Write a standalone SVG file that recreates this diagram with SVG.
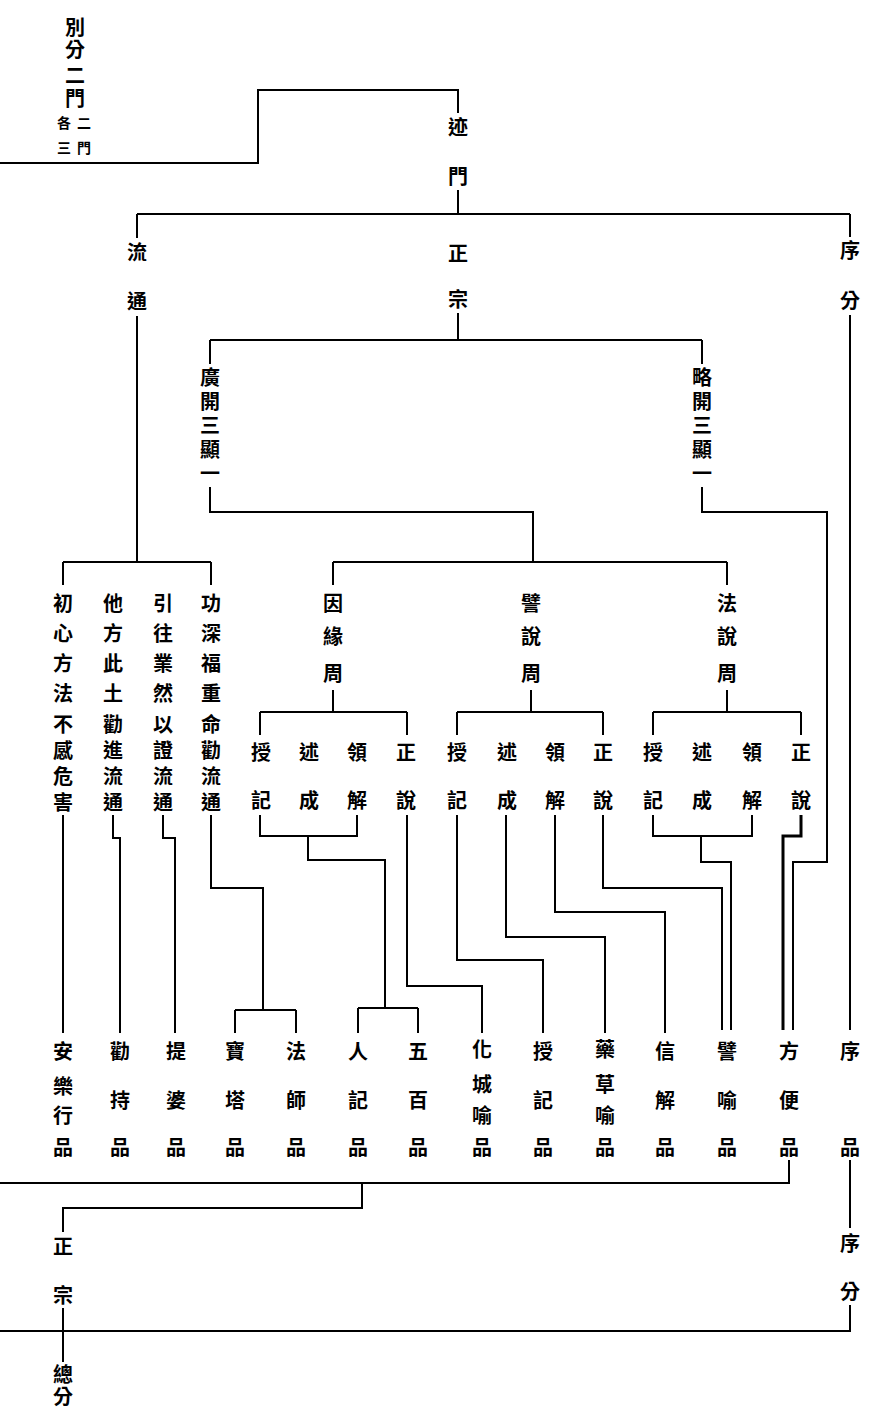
<svg xmlns="http://www.w3.org/2000/svg" width="871" height="1415" viewBox="0 0 871 1415">
<style>
text{font-family:"Noto Sans CJK TC","Noto Sans CJK JP",sans-serif;font-weight:700;font-size:20px;text-anchor:middle;fill:#000}
.s{font-size:14px}
.t{font-size:20px}
.c path{fill:none;stroke:#000;stroke-width:2}
.c .k{stroke-width:3}
</style>
<rect width="871" height="1415" fill="#fff"/>
<g class="c" id="connectors">
<path d="M0,163 H258 V90 H458 V113"/>
<path d="M458,190 V214"/>
<path d="M137,214 H850 M137,214 V238 M850,214 V237"/>
<path d="M458,313 V340"/>
<path d="M210,340 H702 M210,340 V364 M702,340 V364"/>
<path d="M137,316 V562 M63,562 H211 M63,562 V585 M211,562 V585"/>
<path d="M210,487 V512 H533 V562 M333,562 H727 M333,562 V585 M727,562 V585"/>
<path d="M702,487 V512 H827 V862 H793 V1030"/>
<path d="M850,315 V1030"/>
<path d="M333,690 V712 M260,712 H407 M260,712 V735 M407,712 V735"/>
<path d="M531,690 V712 M457,712 H603 M457,712 V735 M603,712 V735"/>
<path d="M727,690 V712 M653,712 H801 M653,712 V735 M801,712 V735"/>
<path d="M260,815 V836 H357 V815 M308,836 V860 H385 V1008 M358,1008 H418 M358,1008 V1033 M418,1008 V1033"/>
<path d="M407,815 V986 H482 V1033"/>
<path d="M457,815 V960 H543 V1033"/>
<path d="M506,815 V937 H605 V1033"/>
<path d="M555,815 V912 H665 V1033"/>
<path d="M603,815 V888 H722 V1030"/>
<path d="M653,815 V836 H752 V815 M701,836 V862 H731 V1030"/>
<path class="k" d="M801,815 V836 H783 V1030"/>
<path d="M63,815 V1033"/>
<path d="M113,815 V838 H120 V1033"/>
<path d="M163,815 V838 H175 V1033"/>
<path d="M211,815 V888 H263 V1010 M235,1010 H296 M235,1010 V1033 M296,1010 V1033"/>
<path d="M789,1160 V1183 H0 M362,1183 V1208 H63 V1232 M63,1308 V1362 M0,1331 H850 V1305 M850,1160 V1228"/>
</g>
<g id="n-betsubun"><text class="t" x="75" y="35">別</text><text class="t" x="75" y="57">分</text><text class="t" x="75" y="83">二</text><text class="t" x="75" y="106">門</text><text class="s" x="64" y="128">各</text><text class="s" x="84" y="128">二</text><text class="s" x="64" y="153">三</text><text class="s" x="84" y="153">門</text></g>
<g id="n-shakumon"><text x="458" y="135">迹</text><text x="458" y="184">門</text></g>
<g id="n-jobun"><text x="850" y="258">序</text><text x="850" y="308">分</text></g>
<g id="n-shoshu"><text x="458" y="261">正</text><text x="458" y="307">宗</text></g>
<g id="n-ruzu"><text x="137" y="260">流</text><text x="137" y="309">通</text></g>
<g id="n-kokai"><text class="t" x="210" y="385">廣</text><text class="t" x="210" y="409">開</text><text class="t" x="210" y="433">三</text><text class="t" x="210" y="457">顯</text><text class="t" x="210" y="481">一</text></g>
<g id="n-ryakukai"><text class="t" x="702" y="385">略</text><text class="t" x="702" y="409">開</text><text class="t" x="702" y="433">三</text><text class="t" x="702" y="457">顯</text><text class="t" x="702" y="481">一</text></g>
<g id="n-innen"><text x="333" y="611">因</text><text x="333" y="644">緣</text><text x="333" y="681">周</text></g>
<g id="n-hiyu"><text x="531" y="611">譬</text><text x="531" y="644">說</text><text x="531" y="681">周</text></g>
<g id="n-hossetsu"><text x="727" y="611">法</text><text x="727" y="644">說</text><text x="727" y="681">周</text></g>
<g id="n-g1"><text x="261" y="760">授</text><text x="261" y="808">記</text><text x="309" y="760">述</text><text x="309" y="808">成</text><text x="357" y="760">領</text><text x="357" y="808">解</text><text x="406" y="760">正</text><text x="406" y="808">說</text></g>
<g id="n-g2"><text x="457" y="760">授</text><text x="457" y="808">記</text><text x="507" y="760">述</text><text x="507" y="808">成</text><text x="555" y="760">領</text><text x="555" y="808">解</text><text x="603" y="760">正</text><text x="603" y="808">說</text></g>
<g id="n-g3"><text x="653" y="760">授</text><text x="653" y="808">記</text><text x="702" y="760">述</text><text x="702" y="808">成</text><text x="752" y="760">領</text><text x="752" y="808">解</text><text x="801" y="760">正</text><text x="801" y="808">說</text></g>
<g id="n-col1"><text x="63" y="611">初</text><text x="63" y="641">心</text><text x="63" y="671">方</text><text x="63" y="701">法</text><text x="63" y="732">不</text><text x="63" y="758">感</text><text x="63" y="784">危</text><text x="63" y="810">害</text></g>
<g id="n-col2"><text x="113" y="611">他</text><text x="113" y="641">方</text><text x="113" y="671">此</text><text x="113" y="701">土</text><text x="113" y="732">勸</text><text x="113" y="758">進</text><text x="113" y="784">流</text><text x="113" y="810">通</text></g>
<g id="n-col3"><text x="163" y="611">引</text><text x="163" y="641">往</text><text x="163" y="671">業</text><text x="163" y="701">然</text><text x="163" y="732">以</text><text x="163" y="758">證</text><text x="163" y="784">流</text><text x="163" y="810">通</text></g>
<g id="n-col4"><text x="211" y="611">功</text><text x="211" y="641">深</text><text x="211" y="671">福</text><text x="211" y="701">重</text><text x="211" y="732">命</text><text x="211" y="758">勸</text><text x="211" y="784">流</text><text x="211" y="810">通</text></g>
<g id="n-anrakugyo"><text x="63" y="1059">安</text><text x="63" y="1094">樂</text><text x="63" y="1123">行</text><text x="63" y="1155">品</text></g>
<g id="n-kanji"><text x="120" y="1059">勸</text><text x="120" y="1108">持</text><text x="120" y="1155">品</text></g>
<g id="n-daiba"><text x="176" y="1059">提</text><text x="176" y="1108">婆</text><text x="176" y="1155">品</text></g>
<g id="n-hoto"><text x="235" y="1059">寶</text><text x="235" y="1108">塔</text><text x="235" y="1155">品</text></g>
<g id="n-hosshi"><text x="296" y="1059">法</text><text x="296" y="1108">師</text><text x="296" y="1155">品</text></g>
<g id="n-ninki"><text x="358" y="1059">人</text><text x="358" y="1108">記</text><text x="358" y="1155">品</text></g>
<g id="n-gohyaku"><text x="418" y="1059">五</text><text x="418" y="1108">百</text><text x="418" y="1155">品</text></g>
<g id="n-kejo"><text x="482" y="1057">化</text><text x="482" y="1092">城</text><text x="482" y="1123">喻</text><text x="482" y="1155">品</text></g>
<g id="n-juki"><text x="543" y="1059">授</text><text x="543" y="1108">記</text><text x="543" y="1155">品</text></g>
<g id="n-yakuso"><text x="605" y="1057">藥</text><text x="605" y="1092">草</text><text x="605" y="1123">喻</text><text x="605" y="1155">品</text></g>
<g id="n-shinge"><text x="665" y="1059">信</text><text x="665" y="1108">解</text><text x="665" y="1155">品</text></g>
<g id="n-hiyuhon"><text x="727" y="1059">譬</text><text x="727" y="1108">喻</text><text x="727" y="1155">品</text></g>
<g id="n-hoben"><text x="789" y="1059">方</text><text x="789" y="1108">便</text><text x="789" y="1155">品</text></g>
<g id="n-johon"><text x="850" y="1059">序</text><text x="850" y="1155">品</text></g>
<g id="n-shoshu2"><text x="63" y="1254">正</text><text x="63" y="1303">宗</text></g>
<g id="n-jobun2"><text x="850" y="1251">序</text><text x="850" y="1299">分</text></g>
<g id="n-sobun"><text x="63" y="1382">總</text><text x="63" y="1404">分</text></g>
</svg>
